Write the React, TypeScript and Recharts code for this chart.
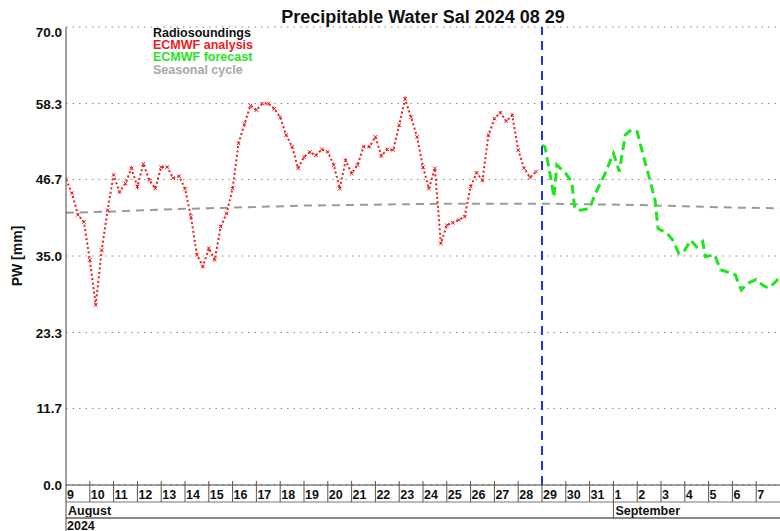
import { LineChart, Line, XAxis, YAxis, CartesianGrid, ReferenceLine } from "recharts";

// x = days since 9 Aug 2024 00 UTC
const analysisDays = [
  0, 0.25, 0.5, 0.75, 1, 1.25, 1.5, 1.75, 2, 2.25, 2.5, 2.75, 3, 3.25, 3.5, 3.75,
  4, 4.25, 4.5, 4.75, 5, 5.25, 5.5, 5.75, 6, 6.25, 6.5, 6.75, 7, 7.25, 7.5, 7.75,
  8, 8.25, 8.5, 8.75, 9, 9.25, 9.5, 9.75, 10, 10.25, 10.5, 10.75, 11, 11.25, 11.5, 11.75,
  12, 12.25, 12.5, 12.75, 13, 13.25, 13.5, 13.75, 14, 14.25, 14.5, 14.75, 15, 15.25, 15.5, 15.75,
  16, 16.25, 16.5, 16.75, 17, 17.25, 17.5, 17.75, 18, 18.25, 18.5, 18.75, 19, 19.25, 19.5, 19.75,
];
const analysisPw = [
  46.7, 44.6, 41.3, 40.2, 34.4, 27.5, 35.9, 42.0, 47.4, 44.8, 46.1, 48.4, 45.6, 49.1, 46.6, 45.3,
  48.6, 48.6, 46.9, 47.2, 45.3, 41.0, 35.2, 33.4, 36.2, 34.4, 39.5, 41.5, 45.3, 52.2, 55.2, 58.0,
  57.3, 58.3, 58.3, 57.5, 56.2, 53.5, 51.7, 48.4, 50.1, 50.9, 50.4, 51.3, 50.9, 48.9, 45.3, 49.6,
  47.6, 48.9, 51.7, 51.7, 53.2, 50.3, 51.3, 51.2, 55.0, 59.0, 56.2, 53.2, 48.6, 45.3, 48.4, 36.9,
  39.7, 40.1, 40.5, 41.0, 45.6, 47.7, 46.6, 53.5, 56.0, 56.9, 55.6, 56.5, 51.2, 48.4, 47.0, 47.9,
];

const forecastDays = [
  20, 20.125, 20.375, 20.5, 20.625, 21, 21.25, 21.375, 21.625, 22, 22.25, 22.625, 23, 23.25,
  23.5, 23.75, 24, 24.25, 24.5, 24.75, 24.875, 25.25, 25.5, 25.75, 26, 26.25, 26.5, 26.75,
  26.875, 27.25, 27.5, 27.75, 28.125, 28.375, 28.625, 29, 29.25, 29.5, 29.75, 30,
];
const forecastPw = [
  51.9, 51.7, 46.8, 44.0, 48.9, 47.6, 46.3, 42.3, 42.0, 42.3, 44.6, 47.4, 50.7, 47.9,
  53.5, 54.3, 54.0, 50.4, 47.1, 43.5, 39.2, 38.5, 37.4, 35.4, 35.9, 37.4, 36.4, 37.2,
  34.9, 35.2, 32.9, 32.6, 32.1, 29.8, 30.8, 31.4, 30.6, 30.1, 30.8, 31.8,
];

const seasonalDays = [0, 2, 4, 6, 8, 10, 12, 14, 16, 18, 20, 22, 24, 26, 28, 30];
const seasonalPw = [41.6, 41.8, 42.1, 42.3, 42.5, 42.7, 42.8, 42.9, 43.0, 43.0, 43.0, 42.9, 42.8, 42.6, 42.4, 42.3];

const dayLabels = [
  "9", "10", "11", "12", "13", "14", "15", "16", "17", "18", "19", "20", "21", "22", "23",
  "24", "25", "26", "27", "28", "29", "30", "31", "1", "2", "3", "4", "5", "6", "7",
];
const monthStarts = [0, 23];
const monthNames = ["August", "September"];
const yearLabel = "2024";
const yTicks = [0, 11.7, 23.3, 35, 46.7, 58.3, 70];
const forecastStart = 20;

const legendNames = ["Radiosoundings", "ECMWF analysis", "ECMWF forecast", "Seasonal cycle"];
const legendColors = ["#111111", "#ee1c1c", "#1ee61e", "#a8a8a8"];

const W = 780;
const H = 531;
const LEFT = 66;
const TOP = 27;
const BOTTOM = 485;
const FONT = "'Liberation Sans', Arial, Helvetica, sans-serif";
const AXIS = "#444";

const analysis = analysisDays.map((d, i) => ({ d, v: analysisPw[i] }));
const forecast = forecastDays.map((d, i) => ({ d, v: forecastPw[i] }));
const seasonal = seasonalDays.map((d, i) => ({ d, v: seasonalPw[i] }));
const dayTicks = dayLabels.map((_, i) => i);

function CrossDot(props: any) {
  const { cx, cy, index } = props;
  if (cx == null || cy == null) return <g key={`x${index}`} />;
  return (
    <path
      key={`x${index}`}
      d={`M${cx - 1.8},${cy - 1.8}L${cx + 1.8},${cy + 1.8}M${cx - 1.8},${cy + 1.8}L${cx + 1.8},${cy - 1.8}`}
      stroke="#ee1c1c"
      strokeWidth={1}
      fill="none"
    />
  );
}

function YTick(props: any) {
  const { y, payload } = props;
  const v = payload.value as number;
  // top label sits just under the frame
  const yy = v === 70 ? y + 5 : y;
  return (
    <text x={62} y={yy} dy={5} textAnchor="end" fontFamily={FONT} fontSize={13.5} fontWeight="bold" fill="#111">
      {v.toFixed(1)}
    </text>
  );
}

function DayTick(props: any) {
  const { x, payload } = props;
  const i = payload.value as number;
  const m = monthStarts.indexOf(i);
  return (
    <g>
      {i > 0 && <line x1={x} x2={x} y1={BOTTOM - 4} y2={BOTTOM + 17} stroke="#555" strokeWidth={1} />}
      <text x={x + 1} y={BOTTOM + 14} fontFamily={FONT} fontSize={12.5} fontWeight="bold" fill="#111">
        {dayLabels[i]}
      </text>
      {m >= 0 && (
        <g>
          {i > 0 && <line x1={x} x2={x} y1={BOTTOM + 17} y2={BOTTOM + 33} stroke="#555" strokeWidth={1} />}
          <text x={x + 2} y={BOTTOM + 30} fontFamily={FONT} fontSize={12.5} fontWeight="bold" fill="#111">
            {monthNames[m]}
          </text>
        </g>
      )}
      {i === 0 && (
        <g>
          <line x1={LEFT} x2={W} y1={BOTTOM + 17} y2={BOTTOM + 17} stroke="#777" strokeWidth={1} />
          <line x1={LEFT} x2={W} y1={BOTTOM + 33} y2={BOTTOM + 33} stroke="#888" strokeWidth={2} />
          <line x1={LEFT} x2={LEFT} y1={BOTTOM} y2={H} stroke={AXIS} strokeWidth={1} />
          <text x={LEFT + 1} y={H - 1} fontFamily={FONT} fontSize={12.5} fontWeight="bold" fill="#111">
            {yearLabel}
          </text>
        </g>
      )}
    </g>
  );
}

function TopTick(props: any) {
  const { x, payload } = props;
  if (payload.value === 0) return <g />;
  return <line x1={x} x2={x} y1={TOP} y2={TOP + 4} stroke="#555" strokeWidth={1} />;
}

export default function App() {
  return (
    <div style={{ position: "absolute", left: 0, top: 0, width: W, height: H, background: "#fff", fontFamily: FONT }}>
      <LineChart width={W} height={H} margin={{ top: TOP, right: 0, bottom: 0, left: 0 }}>
        <CartesianGrid vertical={false} stroke="#8a8a8a" strokeDasharray="1.5 5" yAxisId="pw" xAxisId="bottom" />
        <XAxis
          xAxisId="bottom"
          dataKey="d"
          type="number"
          domain={[0, 30]}
          ticks={dayTicks}
          height={H - BOTTOM}
          axisLine={{ stroke: AXIS }}
          tickLine={false}
          tick={<DayTick />}
          interval={0}
          allowDataOverflow
        />
        <XAxis
          xAxisId="top"
          orientation="top"
          type="number"
          domain={[0, 30]}
          ticks={dayTicks}
          height={0}
          axisLine={{ stroke: AXIS }}
          tickLine={false}
          tick={<TopTick />}
          interval={0}
        />
        <YAxis
          yAxisId="pw"
          type="number"
          domain={[0, 70]}
          ticks={yTicks}
          width={LEFT}
          axisLine={{ stroke: AXIS }}
          tickLine={false}
          tick={<YTick />}
          interval={0}
        />
        <Line
          xAxisId="bottom"
          yAxisId="pw"
          data={seasonal}
          dataKey="v"
          type="linear"
          stroke="#9a9a9a"
          strokeWidth={2}
          strokeDasharray="8 6"
          dot={false}
          isAnimationActive={false}
        />
        <Line
          xAxisId="bottom"
          yAxisId="pw"
          data={analysis}
          dataKey="v"
          type="linear"
          stroke="#ee1c1c"
          strokeWidth={2}
          strokeDasharray="2 2.5"
          dot={<CrossDot />}
          isAnimationActive={false}
        />
        <Line
          xAxisId="bottom"
          yAxisId="pw"
          data={forecast}
          dataKey="v"
          type="linear"
          stroke="#1ee61e"
          strokeWidth={3}
          strokeDasharray="9 5"
          dot={false}
          isAnimationActive={false}
        />
        <ReferenceLine
          xAxisId="bottom"
          yAxisId="pw"
          x={forecastStart}
          stroke="#2233ee"
          strokeWidth={2}
          strokeDasharray="9 6"
        />
      </LineChart>
      <svg width={W} height={H} style={{ position: "absolute", left: 0, top: 0, pointerEvents: "none" }}>
        <text x={423} y={23} textAnchor="middle" fontFamily={FONT} fontSize={18} fontWeight="bold" fill="#111">
          Precipitable Water Sal 2024 08 29
        </text>
        <text
          x={21.5}
          y={256}
          transform="rotate(-90 21.5 256)"
          textAnchor="middle"
          fontFamily={FONT}
          fontSize={14}
          fontWeight="bold"
          fill="#111"
        >
          PW [mm]
        </text>
        {legendNames.map((n, i) => (
          <text key={n} x={153} y={37 + i * 12.2} fontFamily={FONT} fontSize={12.5} fontWeight="bold" fill={legendColors[i]}>
            {n}
          </text>
        ))}
      </svg>
    </div>
  );
}
